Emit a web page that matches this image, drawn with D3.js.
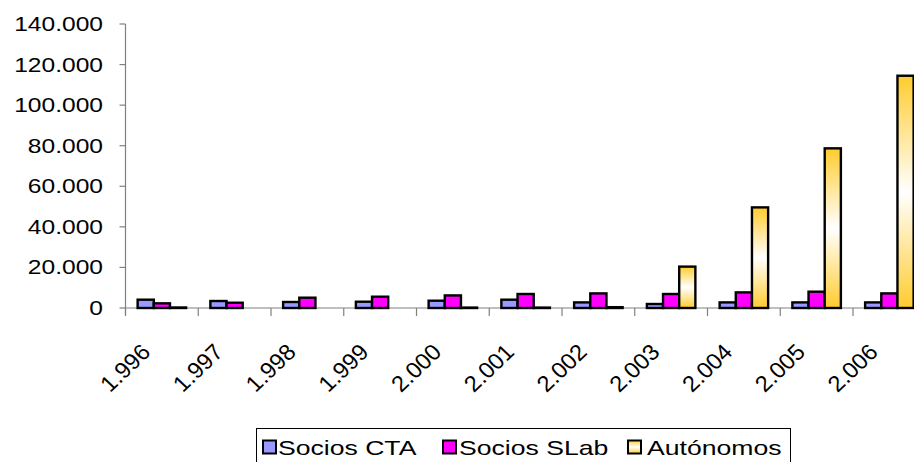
<!DOCTYPE html>
<html>
<head>
<meta charset="utf-8">
<script src="https://cdn.jsdelivr.net/npm/d3@7"></script>
<style>
  html, body { margin: 0; padding: 0; background: #fff; overflow: hidden; }
  text { font-family: "Liberation Sans", Arial, sans-serif; fill: #000; }
</style>
</head>
<body>
<div id="chart"></div>
<script>
const years = ["1.996", "1.997", "1.998", "1.999", "2.000", "2.001", "2.002", "2.003", "2.004", "2.005", "2.006"];
const sociosCTA = [4100, 3450, 2960, 3100, 3600, 4100, 2760, 1970, 2760, 2760, 2760];
const sociosSLab = [2300, 2600, 5080, 5570, 6200, 6900, 7200, 6900, 7700, 8040, 7200];
const autonomos = [250, null, null, null, 200, 200, 400, 20400, 49600, 78700, 114500];
const yTicks = [0, 20000, 40000, 60000, 80000, 100000, 120000, 140000];
const seriesNames = ["Socios CTA", "Socios SLab", "Autónomos"];

const width = 914, height = 462;
const stretch = 1.26; // horizontal text stretch seen in the picture
const plot = { left: 125.5, right: 125.5 + 72.75 * 11, top: 24, bottom: 308 };

const svg = d3.select("#chart").append("svg")
  .attr("width", width)
  .attr("height", height);

const grad = svg.append("defs").append("linearGradient")
  .attr("id", "gold")
  .attr("x1", 0).attr("y1", 0).attr("x2", 0).attr("y2", 1);
grad.append("stop").attr("offset", "0%").attr("stop-color", "#FFCC2E");
grad.append("stop").attr("offset", "50%").attr("stop-color", "#FFFFFF");
grad.append("stop").attr("offset", "100%").attr("stop-color", "#FFCC2E");

const fills = ["#9999FF", "#FF00FF", "url(#gold)"];

const xScale = d3.scaleBand()
  .domain(years)
  .range([plot.left, plot.right])
  .padding(0);

// three bars per year with a 150% gap, half on each side
const barW = xScale.bandwidth() / 4.5;
const xSub = d3.scaleBand()
  .domain(seriesNames)
  .range([barW * 0.75, barW * 3.75])
  .padding(0);

const yScale = d3.scaleLinear()
  .domain([0, 140000])
  .range([plot.bottom, plot.top]);

const fmt = (v) => d3.format(",")(v).replace(/,/g, ".");

// y axis
svg.append("line")
  .attr("x1", plot.left).attr("x2", plot.left)
  .attr("y1", yScale(140000)).attr("y2", yScale(0) + 7)
  .attr("stroke", "#808080").attr("stroke-width", 1.2);

svg.selectAll(".ytick")
  .data(yTicks)
  .enter()
  .append("line")
  .attr("class", "ytick")
  .attr("x1", plot.left - 6).attr("x2", plot.left)
  .attr("y1", (d) => yScale(d)).attr("y2", (d) => yScale(d))
  .attr("stroke", "#808080").attr("stroke-width", 1.2);

svg.selectAll(".ylabel")
  .data(yTicks)
  .enter()
  .append("text")
  .attr("class", "ylabel")
  .attr("text-anchor", "end")
  .attr("font-size", 19.5)
  .attr("transform", (d) => `translate(103,${yScale(d) + 7}) scale(${stretch},1)`)
  .text((d) => fmt(d));

// x axis
svg.append("line")
  .attr("x1", plot.left).attr("x2", plot.right)
  .attr("y1", plot.bottom).attr("y2", plot.bottom)
  .attr("stroke", "#808080").attr("stroke-width", 1.2);

svg.selectAll(".xtick")
  .data(d3.range(years.length + 1))
  .enter()
  .append("line")
  .attr("class", "xtick")
  .attr("x1", (i) => plot.left + i * xScale.step())
  .attr("x2", (i) => plot.left + i * xScale.step())
  .attr("y1", plot.bottom).attr("y2", plot.bottom + 8)
  .attr("stroke", "#808080").attr("stroke-width", 1.2);

svg.selectAll(".xlabel")
  .data(years)
  .enter()
  .append("text")
  .attr("class", "xlabel")
  .attr("text-anchor", "end")
  .attr("font-size", 22.5)
  .attr("transform", (d) => `translate(${xScale(d) + xScale.bandwidth() / 2 - 10},353.5) scale(1.05,1) rotate(-45)`)
  .text((d) => d);

// bars
const allSeries = [sociosCTA, sociosSLab, autonomos];
const barData = [];
years.forEach((yr, i) => {
  allSeries.forEach((vals, s) => {
    if (vals[i] !== null) barData.push({ year: yr, series: seriesNames[s], value: vals[i], s: s });
  });
});

svg.append("g")
  .selectAll("rect")
  .data(barData)
  .enter()
  .append("rect")
  .attr("x", (d) => xScale(d.year) + xSub(d.series))
  .attr("width", xSub.bandwidth())
  .attr("y", (d) => yScale(d.value))
  .attr("height", (d) => yScale(0) - yScale(d.value))
  .attr("fill", (d) => fills[d.s])
  .attr("stroke", "#000")
  .attr("stroke-width", 2.4);

// legend
const legend = svg.append("g");
legend.append("rect")
  .attr("x", 256.5).attr("y", 428.5)
  .attr("width", 534).attr("height", 45)
  .attr("fill", "#fff")
  .attr("stroke", "#000").attr("stroke-width", 1);

const legendX = [263, 443, 628];
const legendTextX = [278, 459, 647];
seriesNames.forEach((name, i) => {
  legend.append("rect")
    .attr("x", legendX[i]).attr("y", 440.5)
    .attr("width", 13).attr("height", 13)
    .attr("fill", fills[i])
    .attr("stroke", "#000").attr("stroke-width", 2);
  legend.append("text")
    .attr("font-size", 20)
    .attr("transform", `translate(${legendTextX[i]},455) scale(1.33,1)`)
    .text(name);
});
</script>
</body>
</html>
